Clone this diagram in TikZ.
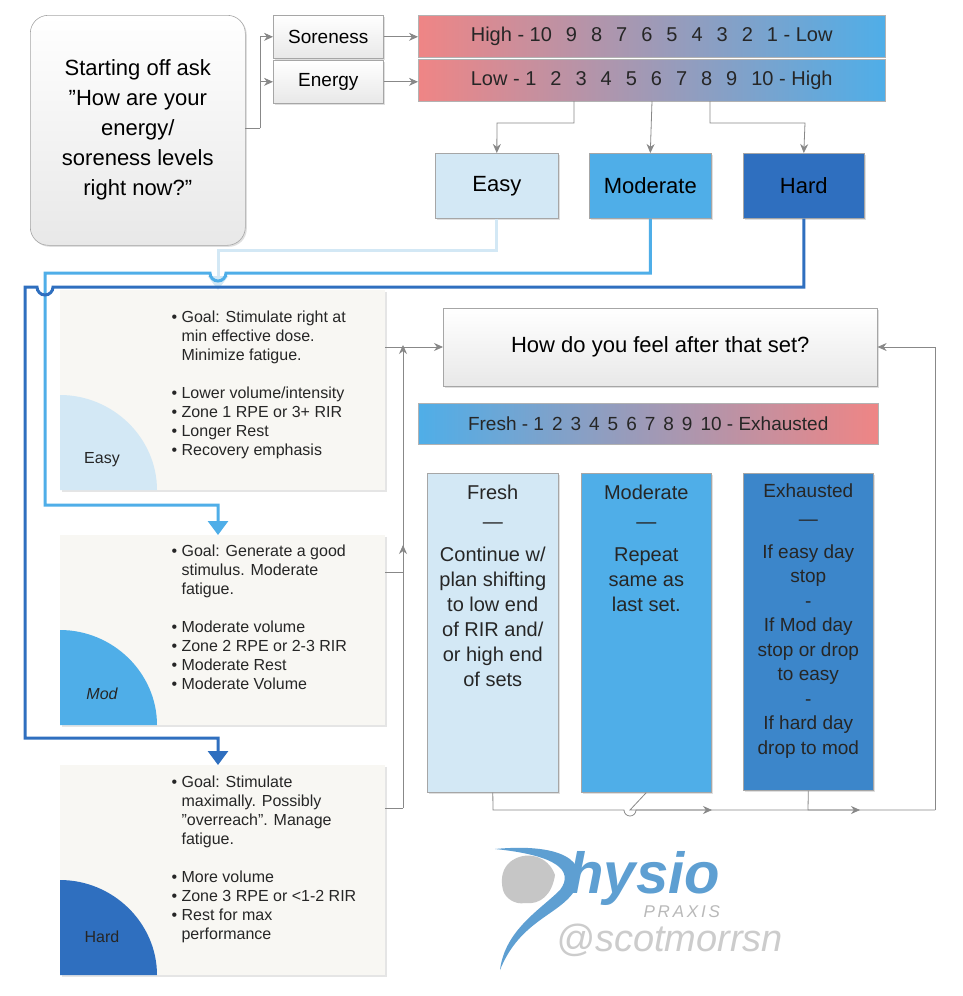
\documentclass[tikz,border=0pt]{standalone}
\usepackage{fontspec}
\setmainfont{Liberation Sans}
\usetikzlibrary{arrows.meta,shadows,calc}
\definecolor{lb}{HTML}{D3E8F5}
\definecolor{mb}{HTML}{4FAEE8}
\definecolor{hb}{HTML}{2F6FBF}
\definecolor{eb}{HTML}{3C86CA}
\definecolor{rd}{HTML}{EF8585}
\definecolor{mid}{HTML}{7E93BC}
\definecolor{card}{HTML}{F8F7F3}
\definecolor{gl}{HTML}{888888}
\definecolor{logo}{HTML}{5E9FD2}
\tikzset{
  box/.style={draw=gray!70, line width=0.6pt, anchor=north west, inner sep=0pt, align=center, drop shadow={shadow xshift=1.5pt,shadow yshift=-1.5pt,opacity=0.25}},
  graybox/.style={box, top color=white, bottom color=gray!18},
  bar/.style={draw=gray!60, anchor=north west, inner sep=0pt, shading=axis, shading angle=90},
  card/.style={anchor=north west, fill=card, minimum width=325pt, inner sep=0pt, drop shadow={shadow xshift=1.5pt,shadow yshift=-1.5pt,opacity=0.2}},
  gline/.style={draw=gl, line width=0.8pt},
  garr/.style={gline, -{Stealth[length=9pt,width=8pt]}},
  bl/.style={line width=3pt},
  barr/.style={bl, -{Triangle[length=14pt,width=20pt]}},
  txt/.style={font=\fontsize{16}{19}\selectfont, text=black!85, align=left, anchor=north west}
}
\begin{document}
\begin{tikzpicture}[x=1pt,y=-1pt]
\useasboundingbox (0,0) rectangle (962,996);
\fill[white] (0,0) rectangle (962,996);
% start box
\node[graybox, rounded corners=18pt, minimum width=215pt, minimum height=230pt, font=\fontsize{22}{30}\selectfont] (start) at (30,15) {Starting off ask\\"How are your\\energy/\\soreness levels\\right now?"};
\node[graybox, minimum width=110pt, minimum height=43pt, font=\fontsize{19}{22}\selectfont] (sore) at (273,15) {Soreness};
\node[graybox, minimum width=110pt, minimum height=43pt, font=\fontsize{19}{22}\selectfont] (ener) at (273,60) {Energy};
\coordinate (sj) at (260,128);
\draw[gline] (245,128) -- (sj);
\draw[garr] (sj) |- (sore.west);
\draw[garr] (sj) |- (ener.west);
% bars
\node[bar, left color=rd, middle color=mid, right color=mb, minimum width=467pt, minimum height=42pt] (bar1) at (418,15) {};
\node[bar, left color=rd, middle color=mid, right color=mb, minimum width=467pt, minimum height=42pt] (bar2) at (418,59) {};
\node[font=\fontsize{20}{24}\selectfont, text=black!85] (b1t) at (bar1.center) {High - 10\hspace{14pt}9\hspace{14pt}8\hspace{14pt}7\hspace{14pt}6\hspace{14pt}5\hspace{14pt}4\hspace{14pt}3\hspace{14pt}2\hspace{14pt}1 - Low};
\node[font=\fontsize{20}{24}\selectfont, text=black!85] (b2t) at (bar2.center) {Low - 1\hspace{14pt}2\hspace{14pt}3\hspace{14pt}4\hspace{14pt}5\hspace{14pt}6\hspace{14pt}7\hspace{14pt}8\hspace{14pt}9\hspace{14pt}10 - High};
\draw[garr] (sore.east) -- (sore.east -| bar1.west);
\draw[garr] (ener.east) -- (ener.east -| bar2.west);
% level boxes
\node[box, fill=lb, minimum width=123pt, minimum height=65pt, font=\fontsize{22}{26}\selectfont] (easy) at (435,153) {Easy};
\node[box, fill=mb, minimum width=122pt, minimum height=65pt, font=\fontsize{22}{26}\selectfont] (mod) at (589,153) {Moderate};
\node[box, fill=hb, minimum width=121pt, minimum height=65pt, font=\fontsize{22}{26}\selectfont] (hard) at (743,153) {Hard};
\draw[garr] (574,101) |- (497,123) -- (easy.north);
\draw[garr] (652,101) -- (mod.north);
\draw[garr] (710,101) |- (805,123) -- (hard.north);
% cards
\node[card, minimum height=200pt] (c1) at (60,290) {};
\node[card, minimum height=190pt] (c2) at (60,535) {};
\node[card, minimum height=210pt] (c3) at (60,765) {};
\fill[lb] (60,395) .. controls (113,395) and (157,438) .. (157,490) -- (60,490) -- cycle;
\fill[mb] (60,630) .. controls (113,630) and (157,673) .. (157,725) -- (60,725) -- cycle;
\fill[hb] (60,880) .. controls (113,880) and (157,923) .. (157,975) -- (60,975) -- cycle;
\node[font=\fontsize{16}{19}\selectfont, text=black!85] (l1) at (102,460) {Easy};
\node[font=\itshape\fontsize{16}{19}\selectfont, text=black!85] (l2) at (102,694) {Mod};
\node[font=\fontsize{16}{19}\selectfont, text=black!85] (l3) at (102,937) {Hard};
\node[txt] (t1) at (168,307) {\textbullet\ Goal: Stimulate right at\\\phantom{\textbullet\ }min effective dose.\\\phantom{\textbullet\ }Minimize fatigue.\\[19pt]\textbullet\ Lower volume/intensity\\\textbullet\ Zone 1 RPE or 3+ RIR\\\textbullet\ Longer Rest\\\textbullet\ Recovery emphasis};
\node[txt] (t2) at (168,541) {\textbullet\ Goal: Generate a good\\\phantom{\textbullet\ }stimulus. Moderate\\\phantom{\textbullet\ }fatigue.\\[19pt]\textbullet\ Moderate volume\\\textbullet\ Zone 2 RPE or 2-3 RIR\\\textbullet\ Moderate Rest\\\textbullet\ Moderate Volume};
\node[txt] (t3) at (168,772) {\textbullet\ Goal: Stimulate\\\phantom{\textbullet\ }maximally. Possibly\\\phantom{\textbullet\ }"overreach". Manage\\\phantom{\textbullet\ }fatigue.\\[19pt]\textbullet\ More volume\\\textbullet\ Zone 3 RPE or <1-2 RIR\\\textbullet\ Rest for max\\\phantom{\textbullet\ }performance};
% blue connectors
\draw[barr, color=lb] (easy.south) |- (218,250) -- (c1.north -| 218,0);
\draw[barr, color=mb] (mod.south) |- (226,273) arc[start angle=0,end angle=180,radius=8] -- (45,273) -- (45,505) -| (218,535);
\draw[barr, color=hb] (hard.south) |- (53,287) arc[start angle=0,end angle=180,radius=8] -- (25,287) -- (25,738) -| (218,765);
% right side
\node[graybox, minimum width=434pt, minimum height=78pt, font=\fontsize{22}{26}\selectfont] (q) at (443,308) {How do you feel after that set?};
\node[bar, left color=mb, middle color=mid, right color=rd, minimum width=460pt, minimum height=41pt] (bar3) at (418,403) {};
\node[font=\fontsize{19}{23}\selectfont, text=black!85] (b3t) at (bar3.center) {Fresh - 1\hspace{8pt}2\hspace{8pt}3\hspace{8pt}4\hspace{8pt}5\hspace{8pt}6\hspace{8pt}7\hspace{8pt}8\hspace{8pt}9\hspace{8pt}10 - Exhausted};
\node[box, fill=lb, minimum width=131pt, minimum height=319pt, anchor=north west] (fr) at (427,473) {};
\node[box, fill=mb, minimum width=130pt, minimum height=319pt] (mo) at (581,473) {};
\node[box, fill=eb, minimum width=130pt, minimum height=317pt] (ex) at (743,473) {};
\node[anchor=north, align=center, font=\fontsize{20}{25}\selectfont, text=black!85] (frt) at ($(fr.north)+(0,8)$) {Fresh\\[4pt]—\\[8pt]Continue w/\\plan shifting\\to low end\\of RIR and/\\or high end\\of sets};
\node[anchor=north, align=center, font=\fontsize{20}{25}\selectfont, text=black!85] (mot) at ($(mo.north)+(0,8)$) {Moderate\\[4pt]—\\[8pt]Repeat\\same as\\last set.};
\node[anchor=north, align=center, font=\fontsize{19}{24.5}\selectfont, text=black!85] (ext) at ($(ex.north)+(0,7)$) {Exhausted\\[4pt]—\\[8pt]If easy day\\stop\\-\\If Mod day\\stop or drop\\to easy\\-\\If hard day\\drop to mod};
% feedback lines
\coordinate (vx) at (403,808);
\draw[gline] (c1.east |- 0,347) -- (403,347);
\draw[gline] (c2.east |- 0,572) -- (403,572);
\draw[gline] (c3.east |- 0,808) -- (vx);
\draw[garr] (vx) -- (403,545);
\draw[garr] (403,572) -- (403,345);
\draw[garr] (403,347) -- (q.west |- 0,347);
\draw[gline] (fr.south) -- (493,810) -- (624,810) arc[start angle=180,end angle=0,radius=6] -- (935,810);
\draw[garr] (mo.south) -- (630,810) -- (712,810);
\draw[garr] (ex.south) -- (808,810) -- (860,810);
\draw[garr] (935,810) -- (935,347) -- (q.east |- 0,347);
% logo
\fill[gray!45] (510,862) .. controls (525,850) and (548,855) .. (555,875) .. controls (552,895) and (540,905) .. (525,903) .. controls (515,905) and (505,898) .. (503,890) .. controls (500,878) and (503,868) .. (510,862) -- cycle;
\fill[logo] (495,849) .. controls (560,843) and (590,860) .. (575,890) .. controls (560,915) and (520,920) .. (500,970) .. controls (505,930) and (540,910) .. (560,890) .. controls (575,870) and (555,855) .. (495,849) -- cycle;
\node[font=\bfseries\itshape\fontsize{58}{60}\selectfont, text=logo, anchor=west] (hy) at (565,878) {hysio};
\node[font=\itshape\fontsize{17}{20}\selectfont, text=gray!55, anchor=west] (px) at (640,912) {P\,R\,A\,X\,I\,S};
\node[font=\itshape\fontsize{38}{40}\selectfont, text=gray!40, anchor=west] (sc) at (553,940) {@scotmorrsn};
\end{tikzpicture}
\end{document}
